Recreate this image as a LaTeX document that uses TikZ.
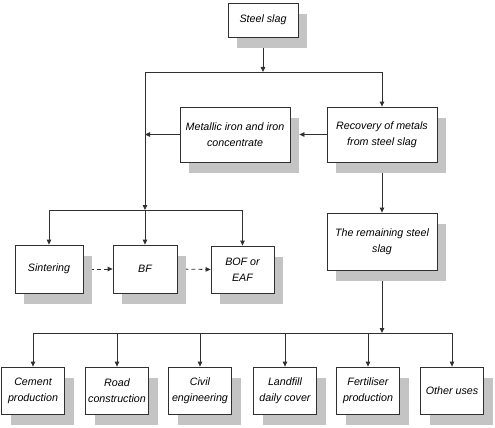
\documentclass[tikz,border=0pt]{standalone}
\usepackage{fontspec}
\setmainfont{Liberation Sans}
\usetikzlibrary{arrows.meta,shadows,backgrounds}
\definecolor{shadowgray}{HTML}{C4C4C4}
\definecolor{linegray}{HTML}{303030}
\tikzset{
  box/.style={draw=linegray, line width=0.8pt, fill=white, align=center,
    inner sep=1pt, font=\fontsize{10.7}{16}\selectfont\itshape,
    drop shadow={shadow xshift=9pt, shadow yshift=-11pt, fill=shadowgray, opacity=1, draw=none}},
  conn/.style={draw=linegray, line width=0.8pt},
  arr/.style={conn, -{Triangle[length=5pt,width=4.5pt]}},
  darr/.style={arr, dashed, dash pattern=on 4pt off 3pt},
}
\begin{document}
\begin{tikzpicture}[x=1pt,y=-1pt]
\useasboundingbox (0,0) rectangle (495,428);
\node[box, minimum width=70pt, minimum height=34pt] (steel) at (263,20) {Steel slag};
\node[box, minimum width=110pt, minimum height=55pt] (metal) at (235,134.5) {Metallic iron and iron\\concentrate};
\node[box, minimum width=110pt, minimum height=55pt] (recov) at (382,134.5) {Recovery of metals\\from steel slag};
\node[box, minimum width=110pt, minimum height=57pt] (remain) at (382,241.5) {The remaining steel\\slag};
\node[box, minimum width=68pt, minimum height=48pt] (sinter) at (49,269) {Sintering};
\node[box, minimum width=64pt, minimum height=48pt] (bf) at (145,269) {BF};
\node[box, minimum width=63pt, minimum height=47pt] (bof) at (242.5,269.5) {BOF or\\EAF};
\node[box, minimum width=63pt, minimum height=47pt] (cem) at (33,390.5) {Cement\\production};
\node[box, minimum width=63pt, minimum height=47pt] (road) at (117,390.5) {Road\\construction};
\node[box, minimum width=63pt, minimum height=47pt] (civil) at (200,390.5) {Civil\\engineering};
\node[box, minimum width=63pt, minimum height=47pt] (land) at (285,390.5) {Landfill\\daily cover};
\node[box, minimum width=63pt, minimum height=47pt] (fert) at (368,390.5) {Fertiliser\\production};
\node[box, minimum width=63pt, minimum height=47pt] (other) at (452,390.5) {Other uses};
\coordinate (j1) at (263,72);
\coordinate (j1l) at (145,72);
\coordinate (j1r) at (382,72);
\coordinate (jm) at (145,134.5);
\coordinate (j2) at (145,210);
\coordinate (j2l) at (49,210);
\coordinate (j2r) at (242.5,210);
\coordinate (j3) at (382,333);
\coordinate (j3l) at (33,333);
\coordinate (j3r) at (452,333);
\begin{pgfonlayer}{background}
\draw[arr] (steel.south) -- (j1);
\draw[conn] (j1l) -- (j1r);
\draw[arr] (j1r) -- (recov.north);
\draw[arr] (j1l) -- (j2);
\draw[arr] (metal.west) -- (jm);
\draw[arr] (recov.west) -- ([xshift=9pt]metal.east);
\draw[arr] (recov.south) -- (remain.north);
\draw[conn] (j2l) -- (j2r);
\draw[arr] (j2l) -- (sinter.north);
\draw[arr] (j2) -- (bf.north);
\draw[arr] (j2r) -- (bof.north);
\draw[darr] (sinter.east) -- (bf.west);
\draw[darr] (bf.east) -- (bof.west);
\draw[arr] (remain.south) -- (j3);
\draw[conn] (j3l) -- (j3r);
\foreach \n in {cem,road,civil,land,fert,other}
  \draw[arr] (\n.north |- j3) -- (\n.north);
\end{pgfonlayer}
\end{tikzpicture}
\end{document}
